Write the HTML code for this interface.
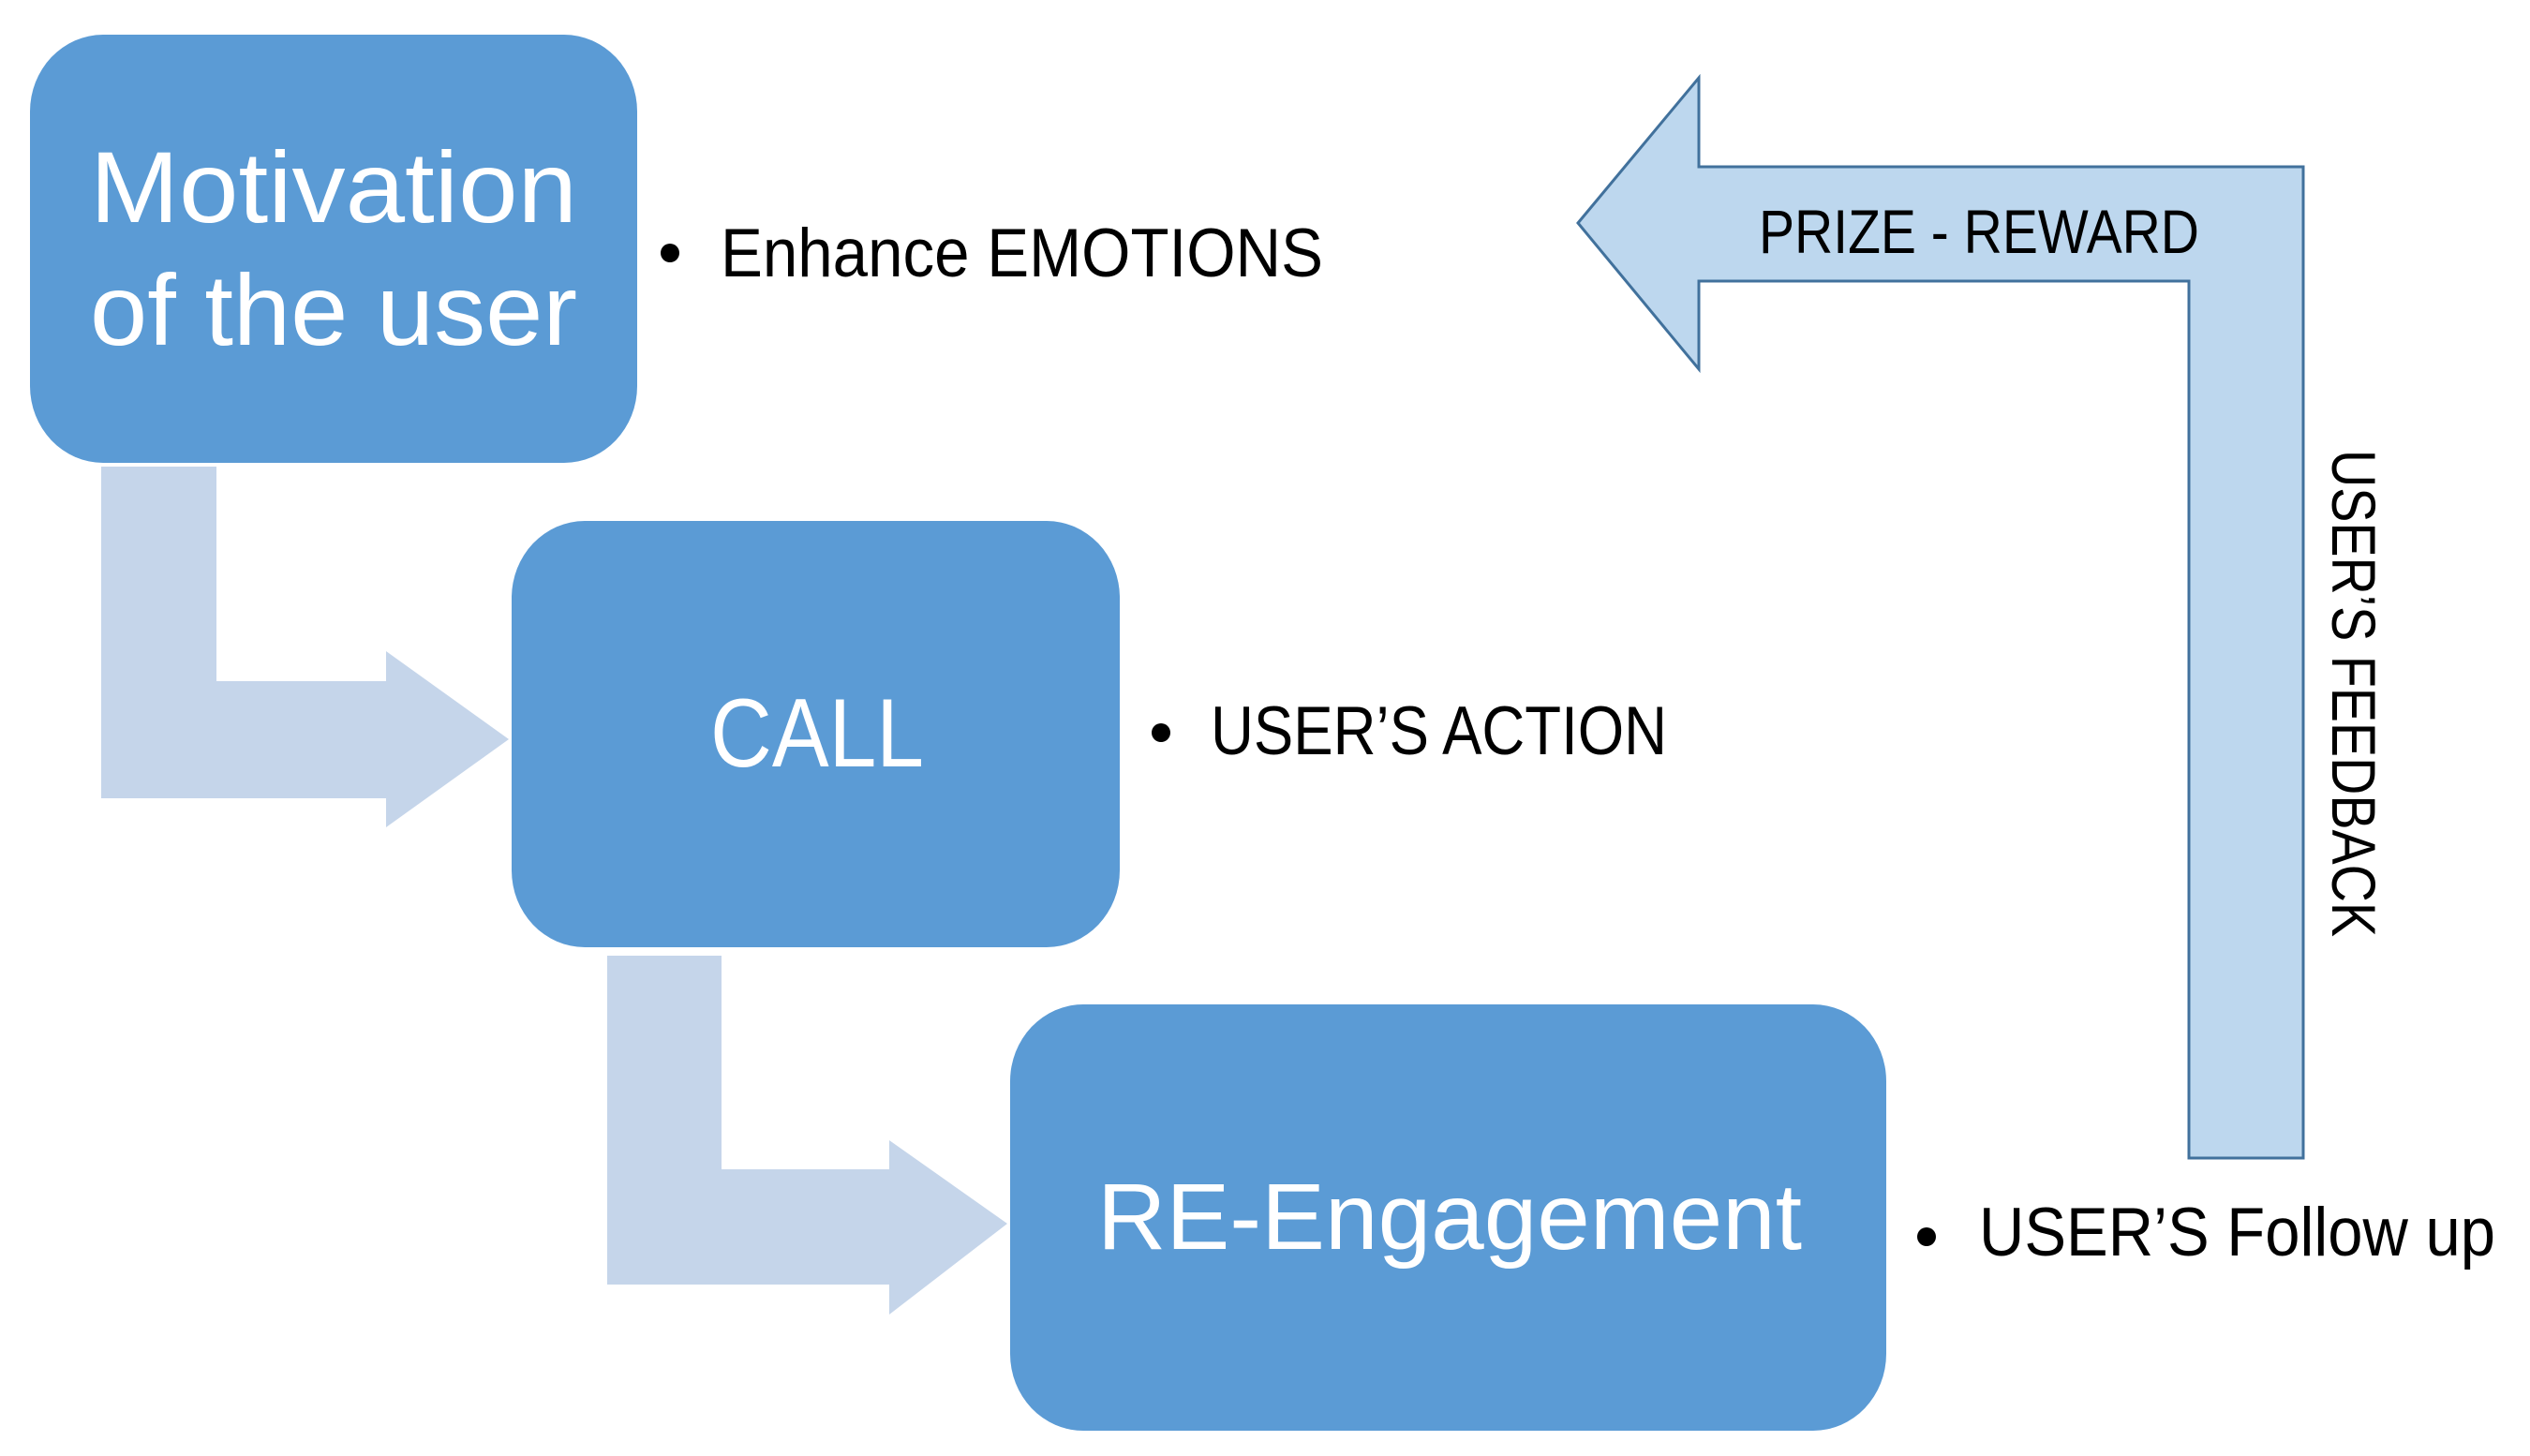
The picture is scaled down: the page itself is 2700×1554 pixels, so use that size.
<!DOCTYPE html>
<html><head><meta charset="utf-8"><style>
html,body{margin:0;padding:0;background:#fff;}
svg{display:block;}
text{font-family:"Liberation Sans",sans-serif;}
</style></head><body>
<svg width="2700" height="1554" viewBox="0 0 2700 1554" xmlns="http://www.w3.org/2000/svg">
<polygon points="108,498 231,498 231,727 412,727 412,695 543,789 412,883 412,852 108,852" fill="#c5d5ea"/>
<polygon points="648,1020 770,1020 770,1248 949,1248 949,1217 1075,1306 949,1403 949,1371 648,1371" fill="#c5d5ea"/>
<rect x="32" y="37" width="648" height="457" rx="78" ry="82" fill="#5b9bd5"/>
<rect x="546" y="556" width="649" height="455" rx="78" ry="82" fill="#5b9bd5"/>
<rect x="1078" y="1072" width="935" height="455" rx="78" ry="82" fill="#5b9bd5"/>
<text x="356" y="237" fill="#fff" font-size="108" text-anchor="middle" textLength="520" lengthAdjust="spacingAndGlyphs">Motivation</text>
<text x="356" y="368" fill="#fff" font-size="108" text-anchor="middle" textLength="520" lengthAdjust="spacingAndGlyphs">of the user</text>
<text x="872" y="818" fill="#fff" font-size="104" text-anchor="middle" textLength="228" lengthAdjust="spacingAndGlyphs">CALL</text>
<text x="1547" y="1333" fill="#fff" font-size="100" text-anchor="middle" textLength="752" lengthAdjust="spacingAndGlyphs">RE-Engagement</text>
<circle cx="715" cy="270" r="10" fill="#000"/>
<text x="769" y="295" font-size="73" textLength="643" lengthAdjust="spacingAndGlyphs">Enhance EMOTIONS</text>
<circle cx="1239" cy="782" r="10" fill="#000"/>
<text x="1292" y="805" font-size="73" textLength="487" lengthAdjust="spacingAndGlyphs">USER’S ACTION</text>
<circle cx="2056" cy="1320" r="10" fill="#000"/>
<text x="2112" y="1340" font-size="73" textLength="551" lengthAdjust="spacingAndGlyphs">USER’S Follow up</text>
<polygon points="1684,238 1813,83 1813,178 2458,178 2458,1236 2336,1236 2336,300 1813,300 1813,394" fill="#bdd7ee" stroke="#41719c" stroke-width="3"/>
<text x="1877" y="270" font-size="66" textLength="470" lengthAdjust="spacingAndGlyphs">PRIZE - REWARD</text>
<text transform="translate(2489,480) rotate(90)" x="0" y="0" font-size="66" textLength="520" lengthAdjust="spacingAndGlyphs">USER’S FEEDBACK</text>
</svg>
</body></html>
